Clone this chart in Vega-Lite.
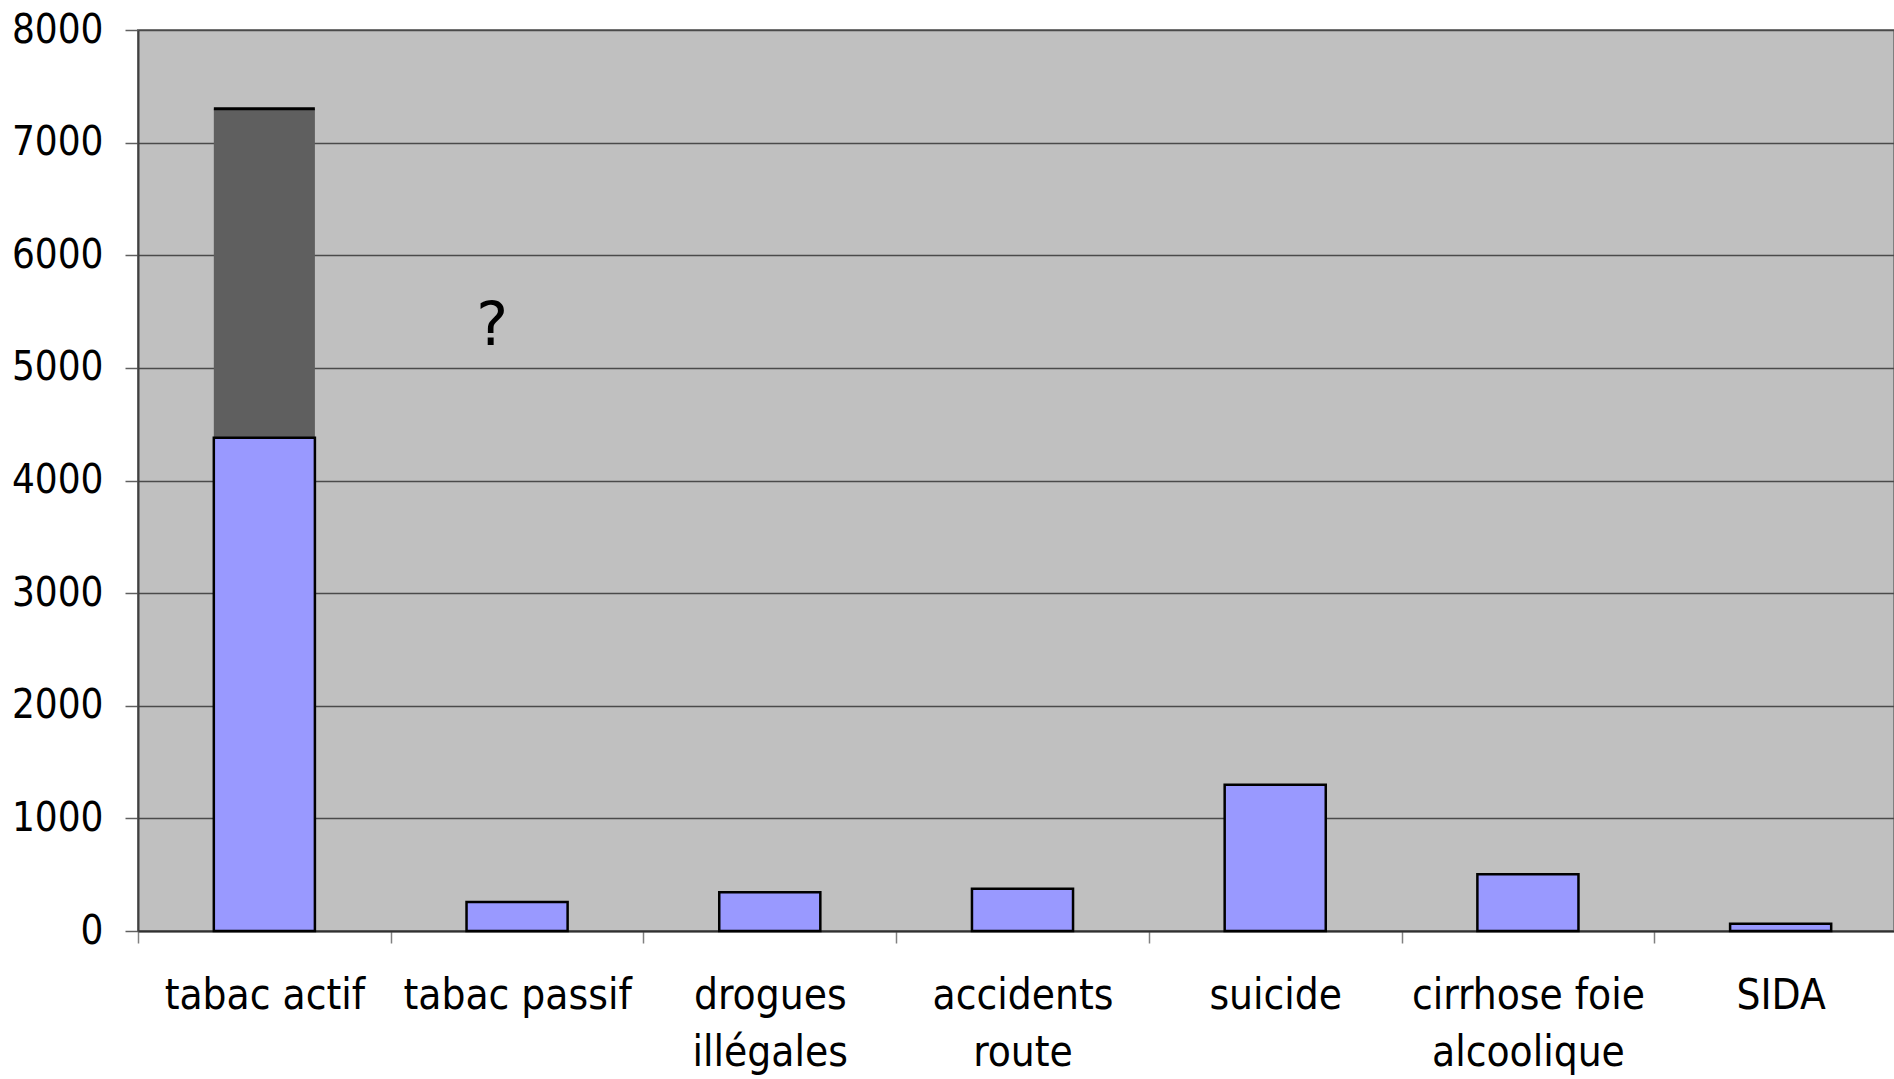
{
  "$schema": "https://vega.github.io/schema/vega-lite/v6.json",
  "width": 1756,
  "height": 901,
  "autosize": {"type": "none"},
  "padding": {"left": 138, "top": 30, "right": 0, "bottom": 148},
  "background": "white",
  "config": {
    "view": {"fill": "#C0C0C0", "stroke": "#808080", "strokeWidth": 2},
    "font": "DejaVu Sans Condensed, Liberation Sans, sans-serif"
  },
  "datasets": {
    "causes": [
      {"cause": "tabac actif", "deces": 4380, "max": 7300},
      {"cause": "tabac passif", "deces": 257},
      {"cause": "drogues illégales", "deces": 343},
      {"cause": "accidents route", "deces": 375},
      {"cause": "suicide", "deces": 1298},
      {"cause": "cirrhose foie alcoolique", "deces": 504},
      {"cause": "SIDA", "deces": 64}
    ],
    "notes": [
      {"cause": "tabac passif", "y": 5360, "texte": "?"}
    ]
  },
  "encoding": {
    "x": {
      "field": "cause",
      "type": "nominal",
      "sort": null,
      "scale": {"paddingInner": 0.6, "paddingOuter": 0.3, "range": [0, 1769]},
      "axis": {
        "title": null,
        "labelAngle": 0,
        "labelFont": "DejaVu Sans Condensed, Liberation Sans, sans-serif",
        "labelFontSize": 42,
        "labelColor": "black",
        "labelBaseline": "top",
        "labelPadding": 32,
        "labelLineHeight": 57,
        "labelLimit": 0,
        "labelOverlap": false,
        "labelBound": false,
        "labelOffset": 126.36,
        "labelExpr": "datum.value == 'drogues illégales' ? ['drogues', 'illégales'] : datum.value == 'accidents route' ? ['accidents', 'route'] : datum.value == 'cirrhose foie alcoolique' ? ['cirrhose foie', 'alcoolique'] : datum.value",
        "tickSize": 12,
        "tickColor": "#808080",
        "tickWidth": 1.5,
        "tickOffset": -126.36,
        "domainColor": "#303030",
        "domainWidth": 2,
        "grid": false
      }
    }
  },
  "layer": [
    {
      "data": {"name": "causes"},
      "transform": [{"filter": "isValid(datum.max)"}],
      "mark": {"type": "bar", "color": "#5F5F5F"},
      "encoding": {
        "y": {
          "field": "deces",
          "type": "quantitative",
          "scale": {"domain": [0, 8000], "nice": false},
          "axis": {
            "title": null,
            "values": [0, 1000, 2000, 3000, 4000, 5000, 6000, 7000, 8000],
            "format": "d",
            "labelFont": "DejaVu Sans Condensed, Liberation Sans, sans-serif",
            "labelFontSize": 40,
            "labelColor": "black",
            "labelPadding": 22,
            "tickSize": 13,
            "tickColor": "#606060",
            "tickWidth": 1.5,
            "domainColor": "#404040",
            "domainWidth": 2,
            "grid": true,
            "gridColor": "#4a4a4a",
            "gridWidth": 1.5
          }
        },
        "y2": {"field": "max"}
      }
    },
    {
      "data": {"name": "causes"},
      "mark": {"type": "bar", "color": "#9999FF", "stroke": "black", "strokeWidth": 2.5},
      "encoding": {
        "y": {"field": "deces", "type": "quantitative"}
      }
    },
    {
      "data": {"name": "causes"},
      "transform": [{"filter": "isValid(datum.max)"}],
      "mark": {"type": "tick", "color": "black", "thickness": 3, "size": 101, "opacity": 1},
      "encoding": {
        "y": {"field": "max", "type": "quantitative"}
      }
    },
    {
      "data": {"name": "notes"},
      "mark": {"type": "text", "font": "DejaVu Sans", "fontSize": 60, "color": "black", "baseline": "middle", "align": "center", "dx": -25},
      "encoding": {
        "y": {"field": "y", "type": "quantitative"},
        "text": {"field": "texte"}
      }
    }
  ]
}
